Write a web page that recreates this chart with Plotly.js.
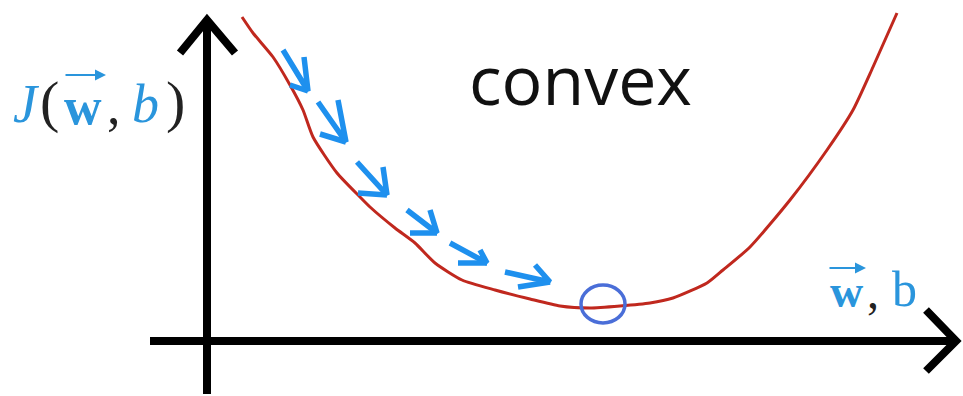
<!DOCTYPE html>
<html>
<head>
<meta charset="utf-8">
<script src="https://cdn.plot.ly/plotly-3.0.1.min.js"></script>
<style>html,body{margin:0;padding:0;background:#fff;}#chart{width:963px;height:396px;}</style>
</head>
<body>
<div id="chart"></div>
<script>
// Cost curve J(w,b) (hand-drawn convex bowl), in drawing units
const curveX = [242, 253, 273, 290, 303, 313, 337, 360, 370, 395, 415, 435, 462, 495, 530, 560, 590, 620, 650, 673, 707, 723, 750, 790, 827, 853, 873, 897];
const curveY = [17, 33, 57, 85, 110, 137, 173, 197, 207, 228, 243, 263, 280, 290, 299, 306, 308, 306, 303, 298, 283, 270, 247, 200, 150, 110, 67, 13];

// Gradient-descent steps (small arrows): tip, shaft start, upper head arm, lower head arm
const stepTipX = [308, 346, 387, 437, 487, 550];
const stepTipY = [91, 142, 195, 233, 263, 282];
const shaftX = [283, 318, 357, 407, 450, 505];
const shaftY = [50, 102, 162, 210, 243, 272];
const armUpX = [304, 338, 383, 430, 480, 535];
const armUpY = [57, 100, 167, 210, 250, 265];
const armLowX = [290, 320, 358, 410, 458, 518];
const armLowY = [85, 134, 193, 233, 263, 287];

// Global minimum marker
const minX = [603];
const minY = [304];

const traces = [];
traces.push({
  x: curveX, y: curveY, type: 'scatter', mode: 'lines',
  line: {color: '#C0281E', width: 3, shape: 'spline', smoothing: 0.6},
  hoverinfo: 'skip', showlegend: false
});
// step arrows
const sx = [], sy = [];
for (let i = 0; i < stepTipX.length; i++) {
  sx.push(shaftX[i], stepTipX[i], armUpX[i], null, armLowX[i], stepTipX[i], null);
  sy.push(shaftY[i], stepTipY[i], armUpY[i], null, armLowY[i], stepTipY[i], null);
}
traces.push({
  x: sx, y: sy, type: 'scatter', mode: 'lines',
  line: {color: '#1E90EE', width: 5.5},
  hoverinfo: 'skip', showlegend: false
});

const shapes = [
  // vertical axis + arrow
  {type: 'line', xref: 'x', yref: 'y', x0: 207, x1: 207, y0: 394, y1: 20, line: {color: '#000', width: 8}},
  {type: 'path', xref: 'x', yref: 'y', path: 'M180,53 L207,20 L235,53', line: {color: '#000', width: 8}},
  // horizontal axis + arrow
  {type: 'line', xref: 'x', yref: 'y', x0: 150, x1: 956, y0: 341, y1: 341, line: {color: '#000', width: 8}},
  {type: 'path', xref: 'x', yref: 'y', path: 'M926,310 L956,341 L926,371', line: {color: '#000', width: 8}},
  // minimum circle
  {type: 'circle', xref: 'x', yref: 'y', x0: minX[0] - 22, x1: minX[0] + 22, y0: minY[0] - 19, y1: minY[0] + 19,
   line: {color: '#4A6ED8', width: 3.5}}
];

const blue = '#2A95DC';
const serif = 'Liberation Serif, DejaVu Serif, serif';
function ann(text, x, y, size, color, family, extra) {
  return Object.assign({text: text, x: x, y: y, xref: 'x', yref: 'y', showarrow: false,
    xanchor: 'center', yanchor: 'middle', font: {size: size, color: color, family: family}}, extra || {});
}
const annotations = [
  ann('convex', 580, 78, 68, '#111', 'Open Sans, sans-serif'),
  // J(w, b)
  ann('<i>J</i>', 26, 104, 54, blue, serif),
  ann('(', 49, 101, 58, '#222', serif),
  ann('<b>w</b>', 83, 106, 52, blue, serif),
  ann(',', 114, 106, 54, '#222', serif),
  ann('<i>b</i>', 145, 104, 54, blue, serif),
  ann(')', 175, 101, 58, '#222', serif),
  {x: 106, y: 75, ax: 64, ay: 75, xref: 'x', yref: 'y', axref: 'x', ayref: 'y', text: '',
   showarrow: true, arrowhead: 2, arrowsize: 1.1, arrowwidth: 2, arrowcolor: blue},
  // w, b axis label
  ann('<b>w</b>', 846, 291, 46, blue, serif),
  ann(',', 873, 291, 48, '#222', serif),
  ann('b', 904, 289, 50, blue, serif),
  {x: 866, y: 268, ax: 828, ay: 268, xref: 'x', yref: 'y', axref: 'x', ayref: 'y', text: '',
   showarrow: true, arrowhead: 2, arrowsize: 1.1, arrowwidth: 2, arrowcolor: blue}
];

const layout = {
  width: 963, height: 396,
  margin: {l: 0, r: 0, t: 0, b: 0},
  paper_bgcolor: '#fff', plot_bgcolor: '#fff',
  xaxis: {range: [0, 963], visible: false, fixedrange: true},
  yaxis: {range: [396, 0], visible: false, fixedrange: true},
  shapes: shapes,
  annotations: annotations,
  showlegend: false
};
Plotly.newPlot('chart', traces, layout, {displayModeBar: false, staticPlot: true});
</script>
</body>
</html>
